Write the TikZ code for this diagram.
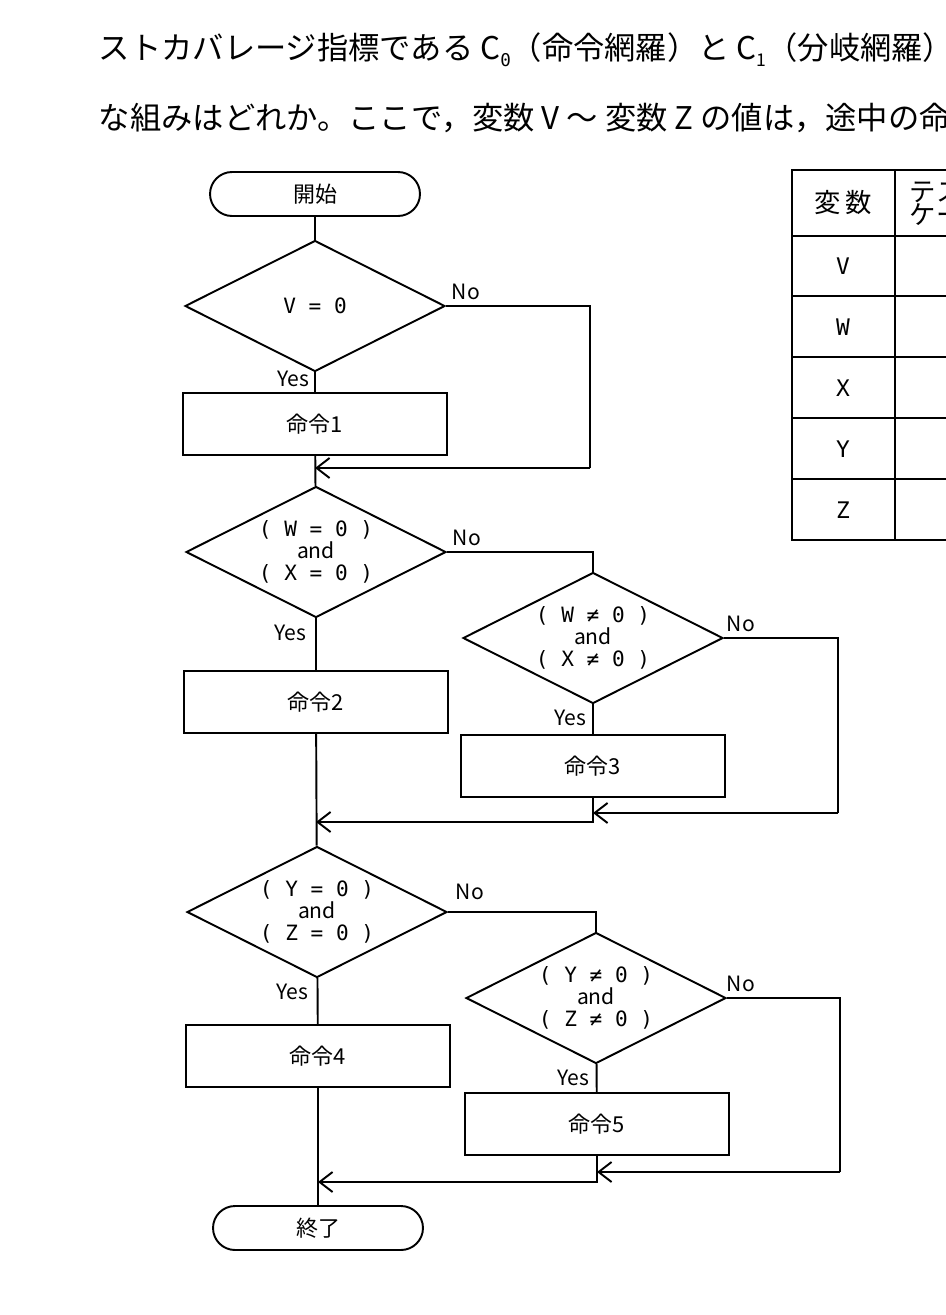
\documentclass[tikz,border=0pt]{standalone}
\usepackage{fontspec}
\setmainfont{Noto Sans CJK JP}
\newfontfamily\condfont{DejaVu Sans Mono}
\usetikzlibrary{shapes.geometric,arrows.meta}

\begin{document}
\begin{tikzpicture}[x=0.02cm,y=-0.02cm,line width=1.1pt,
                    >={Straight Barb[length=2.6mm,width=4mm]},
                    font=\fontsize{12.5pt}{13pt}\selectfont]
\tikzset{term/.style={draw,rounded corners=0.44cm,minimum width=4.2cm,minimum height=0.88cm,inner sep=0pt},
         box/.style={draw,minimum width=5.28cm,minimum height=1.24cm,inner sep=0pt},
         dec/.style={draw,diamond,minimum width=5.2cm,minimum height=2.62cm,inner sep=0pt,
                     label={[align=center,inner sep=0pt,font=\condfont\fontsize{12pt}{12.5pt}\selectfont]center:#1}},
         lbl/.style={inner sep=0pt,font=\fontsize{12pt}{13pt}\selectfont}}
\newcommand{\andline}{{\normalfont and}}
\clip (0,0) rectangle (946,1315);

% question text
\node[anchor=west,inner sep=0pt,font=\fontsize{17.8pt}{20pt}\selectfont] (q1) at (98,50)
  {ストカバレージ指標である C\raisebox{-.4ex}{\fontsize{10pt}{10pt}\selectfont\condfont 0}（命令網羅）と C\raisebox{-.4ex}{\fontsize{10pt}{10pt}\selectfont 1}（分岐網羅）の};
\node[anchor=west,inner sep=0pt,font=\fontsize{17.8pt}{20pt}\selectfont] (q2) at (98,118)
  {な組みはどれか。ここで，変数 V 〜 変数 Z の値は，途中の命令};

% flowchart
\node[term] (start) at (315,194) {開始};
\node[dec={V = 0}]  (dv)    at (315,306) {};
\node[box]  (c1)    at (315,424) {命令1};
\coordinate (j1) at (315,468);
\coordinate (r1) at (590,468);
\node[dec={( W = 0 )\\\andline\\( X = 0 )}]  (dwx)   at (316,552) {};
\node[box]  (c2)    at (316,702) {命令2};
\node[dec={( W ≠ 0 )\\\andline\\( X ≠ 0 )}]  (dwx2)  at (593,638) {};
\node[box]  (c3)    at (593,766) {命令3};
\coordinate (j2) at (593,813);
\coordinate (r2) at (838,813);
\coordinate (j3) at (316,822);
\node[dec={( Y = 0 )\\\andline\\( Z = 0 )}]  (dyz)   at (317,912) {};
\node[box]  (c4)    at (318,1056) {命令4};
\node[dec={( Y ≠ 0 )\\\andline\\( Z ≠ 0 )}]  (dyz2)  at (596,998) {};
\node[box]  (c5)    at (597,1124) {命令5};
\coordinate (j4) at (597,1172);
\coordinate (r4) at (840,1172);
\coordinate (j5) at (318,1182);
\node[term] (end)   at (318,1228) {終了};

% branch labels
\node[lbl] (y1) at (293,379) {Yes};
\node[lbl] (n1) at (466,292) {No};
\node[lbl] (y2) at (290,633) {Yes};
\node[lbl] (n2) at (467,538) {No};
\node[lbl] (y3) at (570,718) {Yes};
\node[lbl] (n3) at (741,624) {No};
\node[lbl] (y4) at (292,992) {Yes};
\node[lbl] (n4) at (470,892) {No};
\node[lbl] (y5) at (573,1078) {Yes};
\node[lbl] (n5) at (741,984) {No};

% connectors
\draw (start) -- (dv);
\draw (dv) -- (c1);
\draw (c1) -- (dwx);
\draw (dv.east) -| (r1);
\draw[->] (r1) -- (j1);
\draw (dwx) -- (c2);
\draw (c2) -- (dyz);
\draw (dwx.east) -| (dwx2.north);
\draw (dwx2) -- (c3);
\draw (dwx2.east) -| (r2);
\draw[->] (r2) -- (j2);
\draw[->] (c3.south) |- (j3);
\draw (dyz) -- (c4);
\draw (c4) -- (end);
\draw (dyz.east) -| (dyz2.north);
\draw (dyz2) -- (c5);
\draw (dyz2.east) -| (r4);
\draw[->] (r4) -- (j4);
\draw[->] (c5.south) |- (j5);

% table
\draw (792,170) rectangle (1100,540);
\draw (895,170) -- (895,540);
\foreach \y in {236,296,357,418,479} \draw (792,\y) -- (1100,\y);
\node[font=\fontsize{15pt}{16pt}\selectfont] (th) at (843,203) {変\,数};
\node[anchor=west,align=left,font=\fontsize{15pt}{13pt}\selectfont] (tc) at (903,203) {テスト\\ケース};
\foreach \v [count=\i] in {V,W,X,Y,Z}
  \node[font=\condfont\fontsize{13pt}{14pt}\selectfont] (t\v) at (843,205+61*\i) {\v};
\end{tikzpicture}
\end{document}
